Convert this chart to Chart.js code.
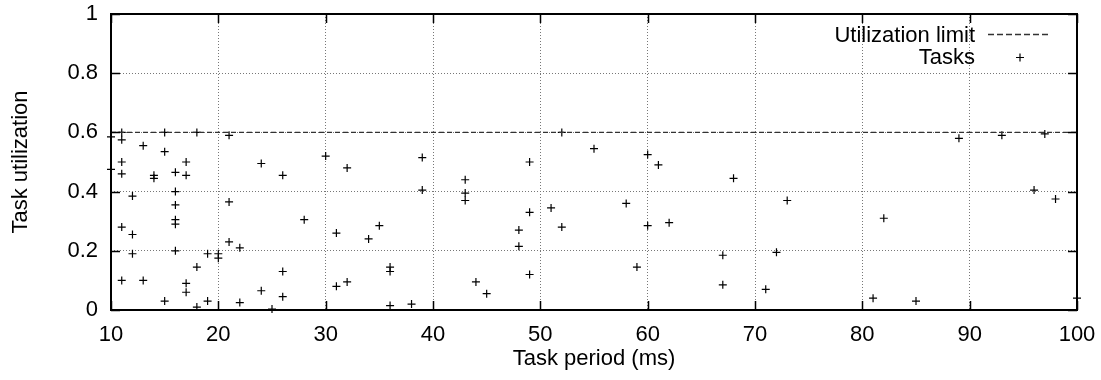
<!DOCTYPE html>
<html>
<head>
<meta charset="utf-8">
<script src="https://cdn.jsdelivr.net/npm/chart.js@4"></script>
<style>
  body { margin: 0; background: #fff; }
  #wrap { width: 1101px; height: 380px; position: relative; }
</style>
</head>
<body>
<div id="wrap"><canvas id="taskChart"></canvas></div>
<script>
// Task period (ms) and utilization for every task
const periods = [
  10, 10,
  11, 11, 11, 11, 11, 11,
  12, 12, 12,
  13, 13,
  14, 14,
  15, 15, 15,
  16, 16, 16, 16, 16, 16,
  17, 17, 17, 17,
  18, 18, 18,
  19, 19,
  20, 20,
  21, 21, 21,
  22, 22,
  24, 24,
  25,
  26, 26, 26,
  28,
  30,
  31, 31,
  32, 32,
  34, 35,
  36, 36, 36,
  38,
  39, 39,
  43, 43, 43,
  44, 45,
  48, 48,
  49, 49, 49,
  51,
  52, 52,
  55, 58, 59,
  60, 60,
  61, 62,
  67, 67,
  68, 71, 72, 73,
  81, 82, 85, 89, 93, 96, 97, 98, 100
];
const utilizations = [
  0.585, 0.475,
  0.60, 0.575, 0.50, 0.46, 0.28, 0.10,
  0.385, 0.255, 0.19,
  0.555, 0.10,
  0.455, 0.445,
  0.60, 0.535, 0.03,
  0.465, 0.40, 0.355, 0.305, 0.29, 0.20,
  0.50, 0.455, 0.09, 0.06,
  0.60, 0.145, 0.01,
  0.19, 0.03,
  0.19, 0.175,
  0.59, 0.365, 0.23,
  0.21, 0.025,
  0.495, 0.065,
  0.003,
  0.455, 0.13, 0.045,
  0.305,
  0.52,
  0.26, 0.08,
  0.48, 0.095,
  0.24, 0.285,
  0.145, 0.13, 0.015,
  0.02,
  0.515, 0.405,
  0.44, 0.395, 0.37,
  0.095, 0.055,
  0.27, 0.215,
  0.50, 0.33, 0.12,
  0.345,
  0.60, 0.28,
  0.545, 0.36, 0.145,
  0.525, 0.285,
  0.49, 0.295,
  0.185, 0.085,
  0.445, 0.07, 0.195, 0.37,
  0.04, 0.31, 0.03, 0.58, 0.59, 0.405, 0.595, 0.375, 0.04
];
// utilization limit line
const limitPeriods = [10, 100];
const limitValues = [0.6, 0.6];

const legendLabels = ["Utilization limit", "Tasks"];

const FONT = "'Liberation Sans', Arial, Helvetica, sans-serif";
Chart.defaults.font.family = FONT;
Chart.defaults.font.size = 22;
Chart.defaults.color = "#000";

// frame, inward tick marks and key drawn over the chart
const framePlugin = {
  id: "frame",
  afterDraw(chart) {
    const ctx = chart.ctx;
    const a = chart.chartArea;
    const xs = chart.scales.x, ys = chart.scales.y;
    ctx.save();
    ctx.strokeStyle = "#000";
    ctx.lineWidth = 1.5;
    const tl = 9;
    xs.ticks.forEach(t => {
      const px = Math.round(xs.getPixelForValue(t.value)) + 0.5;
      ctx.beginPath();
      ctx.moveTo(px, a.bottom); ctx.lineTo(px, a.bottom - tl);
      ctx.moveTo(px, a.top); ctx.lineTo(px, a.top + tl);
      ctx.stroke();
    });
    ys.ticks.forEach(t => {
      const py = Math.round(ys.getPixelForValue(t.value)) + 0.5;
      ctx.beginPath();
      ctx.moveTo(a.left, py); ctx.lineTo(a.left + tl, py);
      ctx.moveTo(a.right, py); ctx.lineTo(a.right - tl, py);
      ctx.stroke();
    });
    ctx.lineWidth = 2;
    ctx.strokeRect(a.left, a.top, a.right - a.left, a.bottom - a.top);

    // key
    ctx.font = "22px " + FONT;
    ctx.fillStyle = "#000";
    ctx.textAlign = "right";
    ctx.textBaseline = "alphabetic";
    const tx = a.right - 102;
    ctx.fillText(legendLabels[0], tx, a.top + 28);
    ctx.fillText(legendLabels[1], tx, a.top + 50);
    ctx.strokeStyle = "#333";
    ctx.lineWidth = 1.3;
    ctx.setLineDash([6, 3]);
    ctx.beginPath();
    ctx.moveTo(a.right - 89, a.top + 20.5);
    ctx.lineTo(a.right - 27, a.top + 20.5);
    ctx.stroke();
    ctx.setLineDash([]);
    ctx.strokeStyle = "#000";
    ctx.lineWidth = 1.2;
    const cx = a.right - 57, cy = a.top + 43.5;
    ctx.beginPath();
    ctx.moveTo(cx - 4, cy); ctx.lineTo(cx + 4, cy);
    ctx.moveTo(cx, cy - 4); ctx.lineTo(cx, cy + 4);
    ctx.stroke();
    ctx.restore();
  }
};

const ctx = document.getElementById("taskChart").getContext("2d");
new Chart(ctx, {
  type: "scatter",
  data: {
    datasets: [
      {
        label: legendLabels[0],
        type: "line",
        data: limitPeriods.map((p, i) => ({ x: p, y: limitValues[i] })),
        borderColor: "#333",
        borderWidth: 1.3,
        borderDash: [5, 3],
        pointRadius: 0,
        fill: false
      },
      {
        label: legendLabels[1],
        data: periods.map((p, i) => ({ x: p, y: utilizations[i] })),
        pointStyle: "cross",
        pointRadius: 4,
        pointBorderWidth: 1.2,
        borderColor: "#000",
        backgroundColor: "#000",
        clip: false
      }
    ]
  },
  options: {
    responsive: true,
    maintainAspectRatio: false,
    animation: false,
    layout: { padding: { top: 14, right: 24, left: 0, bottom: 0 } },
    plugins: {
      legend: { display: false },
      tooltip: { enabled: false }
    },
    scales: {
      x: {
        type: "linear",
        min: 10,
        max: 100,
        ticks: { stepSize: 10, padding: 12, color: "#000" },
        grid: { color: "#777", lineWidth: 1, drawTicks: false },
        border: { display: false, dash: [1, 2] },
        title: { display: true, text: "Task period (ms)", color: "#000", padding: { top: 0, bottom: 8 } },
        afterFit(s) { s.height = 70; s.paddingLeft = 0; s.paddingRight = 0; }
      },
      y: {
        min: 0,
        max: 1,
        ticks: {
          stepSize: 0.2,
          padding: 13,
          color: "#000",
          callback: v => String(+v.toFixed(1))
        },
        grid: { color: "#777", lineWidth: 1, drawTicks: false },
        border: { display: false, dash: [1, 2] },
        title: { display: true, text: "Task utilization", color: "#000", padding: { top: 8, bottom: 0 } },
        afterFit(s) { s.width = 111; s.paddingTop = 0; s.paddingBottom = 0; }
      }
    }
  },
  plugins: [framePlugin]
});
</script>
</body>
</html>
